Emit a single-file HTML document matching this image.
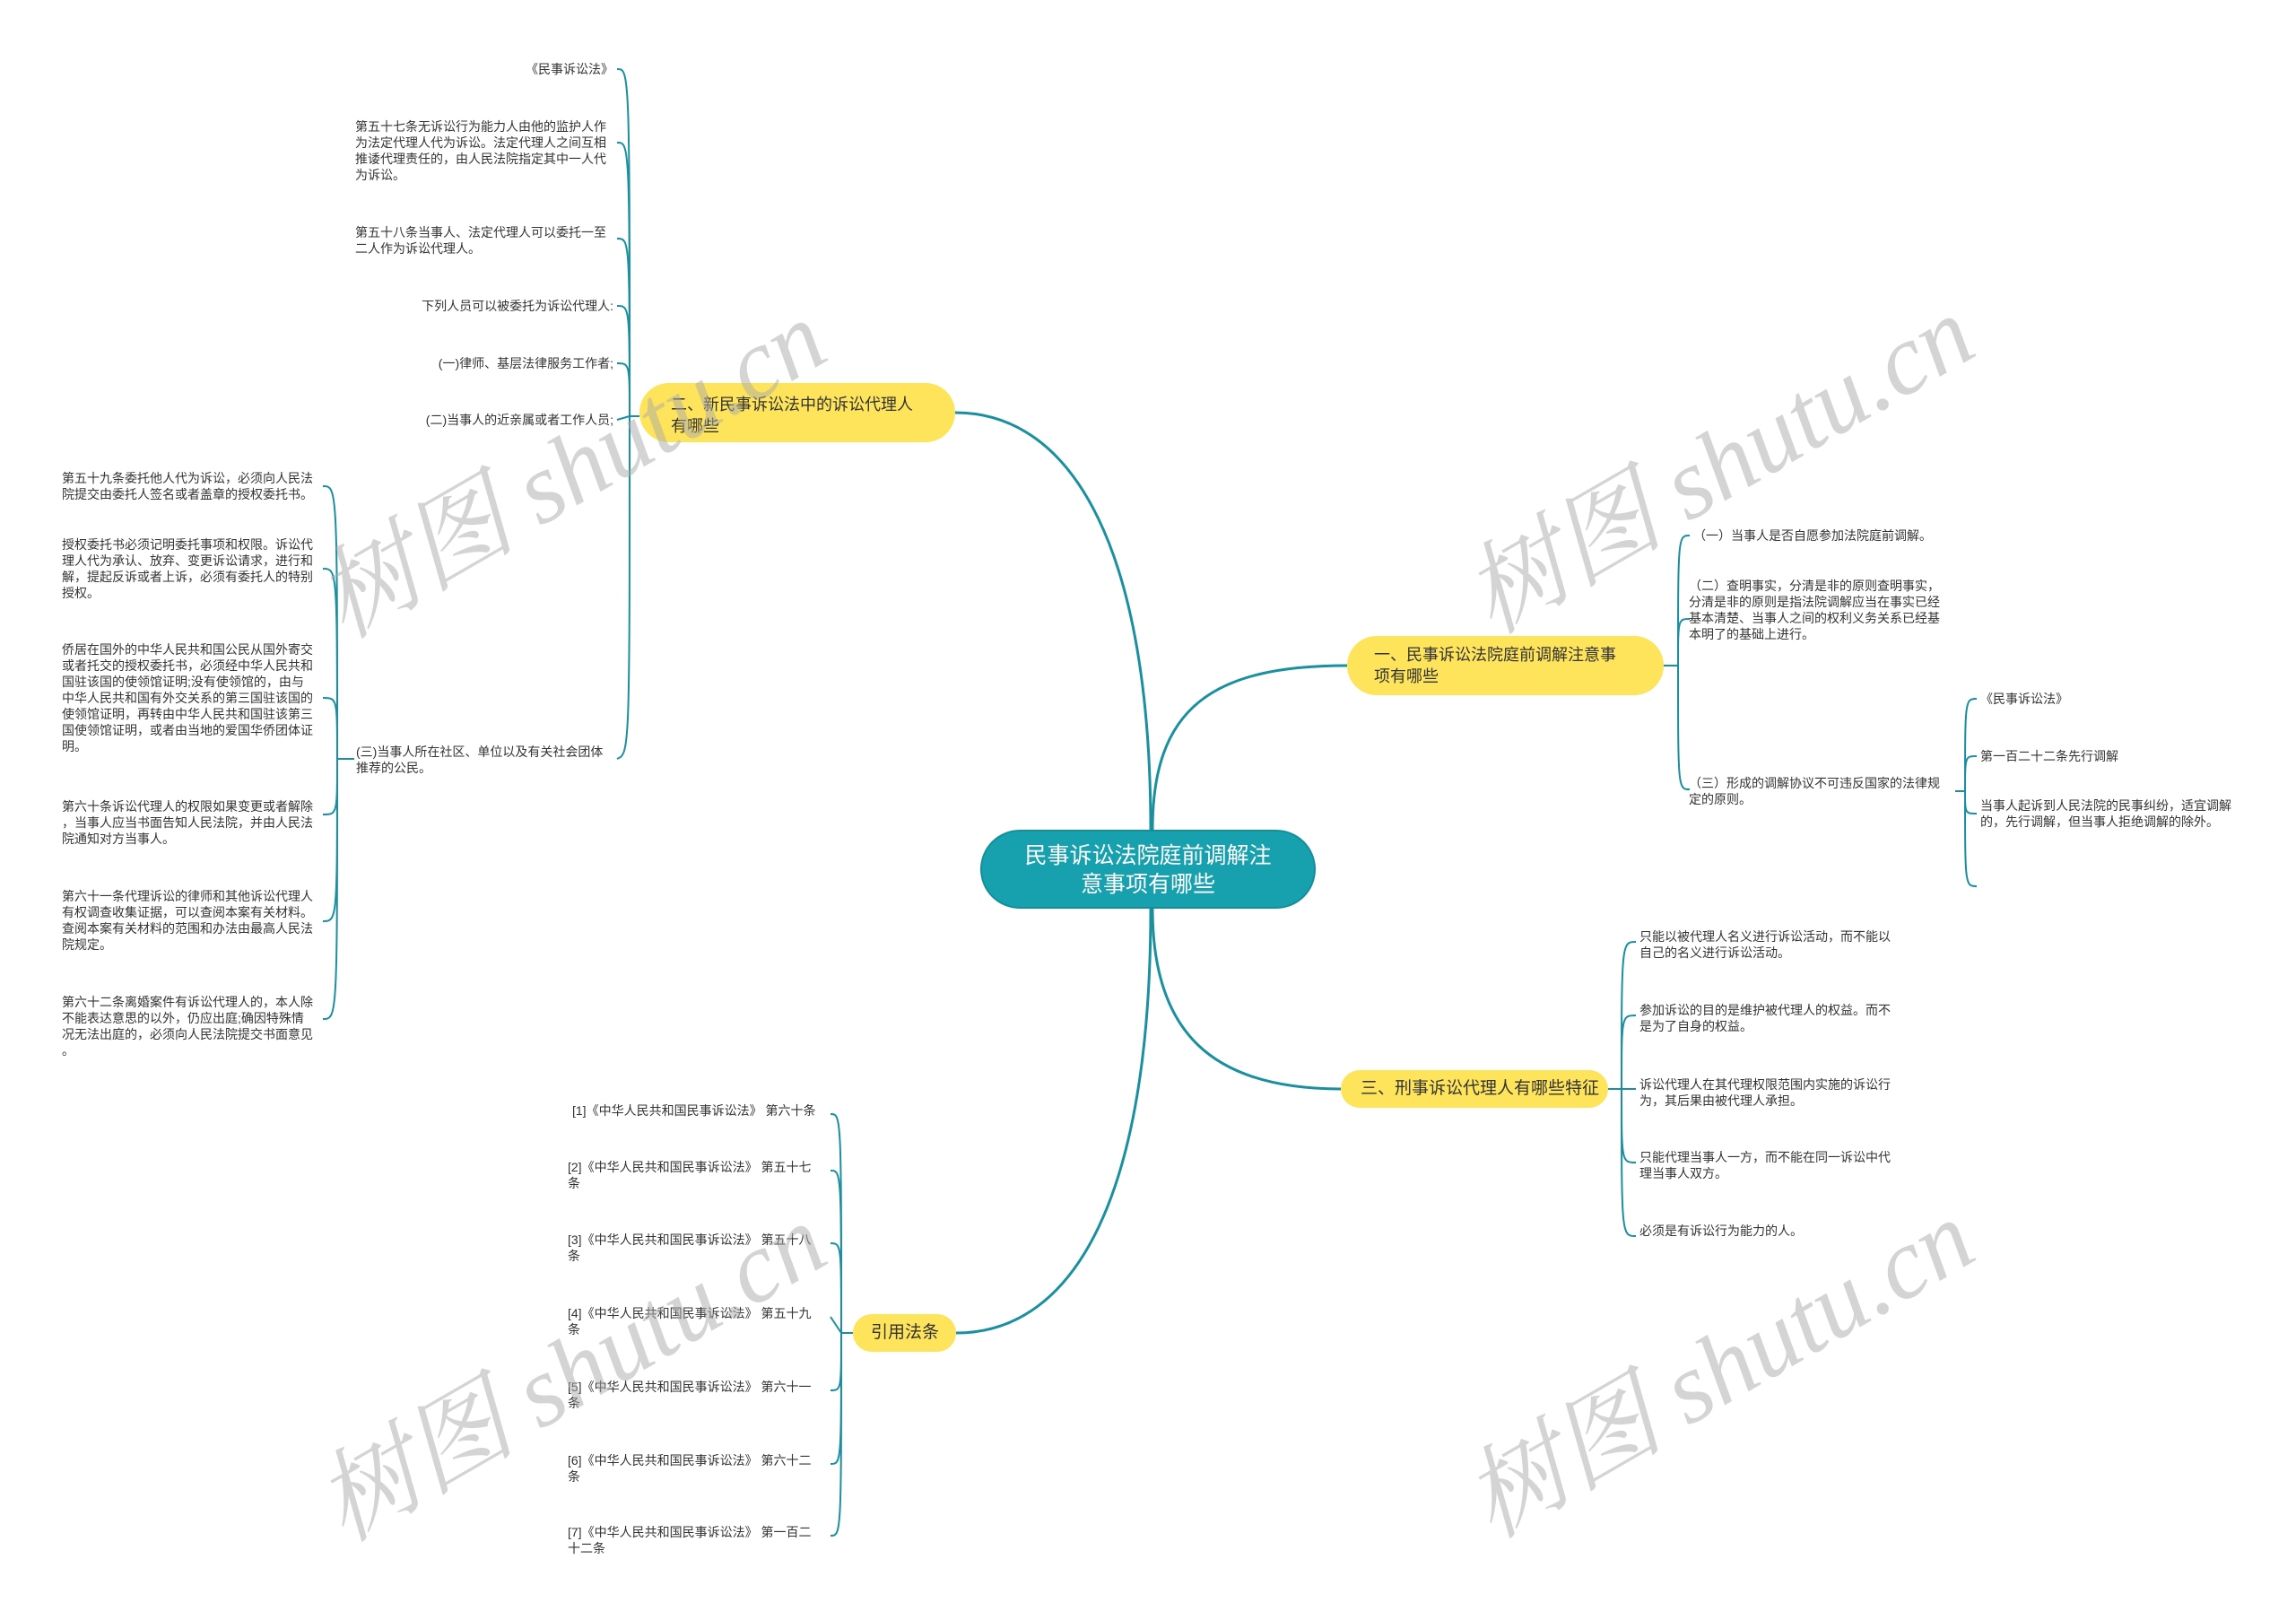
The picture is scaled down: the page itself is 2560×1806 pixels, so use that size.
<!DOCTYPE html>
<html><head><meta charset="utf-8">
<style>
html,body{margin:0;padding:0;background:#fff;}
body{width:2560px;height:1806px;position:relative;overflow:hidden;font-family:"Liberation Sans","Noto Sans CJK SC",sans-serif;}
.t{position:absolute;font-size:14px;line-height:18px;color:#333;white-space:nowrap;}
.r{text-align:right;}
.b{position:absolute;background:#fde45a;border-radius:34px;color:#333;font-size:18px;line-height:24px;box-sizing:border-box;}
.wm{position:absolute;font-family:"Liberation Serif","Noto Serif CJK SC",serif;font-style:italic;font-size:112px;color:rgba(170,170,170,0.5);white-space:nowrap;transform:translate(-50%,-50%) rotate(-30deg);}
</style></head><body>
<svg width="2560" height="1806" style="position:absolute;left:0;top:0" fill="none" stroke="#1a8fa0">
<g stroke-width="3">
<path d="M1283 925 C1283 620 1200 460 1065 460"/>
<path d="M1285 925 C1285 790 1350 742 1502 742"/>
<path d="M1285 1013 C1285 1150 1350 1214 1495 1214"/>
<path d="M1283 1013 C1283 1330 1200 1486 1066 1486"/>
</g>
<g stroke-width="2">
<path d="M713 464 L702 464"/>
<path d="M702 464 C702 77 702 77 688 77"/>
<path d="M702 464 C702 159 702 159 688 159"/>
<path d="M702 464 C702 266 702 266 688 266"/>
<path d="M702 464 C702 341 702 341 688 341"/>
<path d="M702 464 C702 405 702 405 688 405"/>
<path d="M702 464 L688 468"/>
<path d="M702 464 C702 840 702 840 688 846"/>
<path d="M395 846 L376 846"/>
<path d="M376 846 C376 542 376 542 360 542"/>
<path d="M376 846 C376 634 376 634 360 634"/>
<path d="M376 846 C376 778 376 778 360 778"/>
<path d="M376 846 C376 908 376 908 360 908"/>
<path d="M376 846 C376 1027 376 1027 360 1027"/>
<path d="M376 846 C376 1136 376 1136 360 1136"/>
<path d="M1855 742 L1871 742"/>
<path d="M1871 742 C1871 597 1871 597 1884 597"/>
<path d="M1871 742 C1871 690 1871 690 1884 690"/>
<path d="M1871 742 C1871 880 1871 880 1884 880"/>
<path d="M2180 882 L2191 882"/>
<path d="M2191 882 C2191 779 2191 779 2204 779"/>
<path d="M2191 882 C2191 843 2191 843 2204 843"/>
<path d="M2191 882 C2191 907 2191 907 2204 907"/>
<path d="M2191 882 C2191 988 2191 988 2204 988"/>
<path d="M1793 1214 L1808 1214"/>
<path d="M1808 1214 C1808 1050 1808 1050 1824 1050"/>
<path d="M1808 1214 C1808 1132 1808 1132 1824 1132"/>
<path d="M1808 1214 L1824 1214"/>
<path d="M1808 1214 C1808 1296 1808 1296 1824 1296"/>
<path d="M1808 1214 C1808 1378 1808 1378 1824 1378"/>
<path d="M951 1486 L938 1486"/>
<path d="M938 1486 C938 1242 938 1242 926 1242"/>
<path d="M938 1486 C938 1305 938 1305 926 1305"/>
<path d="M938 1486 C938 1386 938 1386 926 1386"/>
<path d="M938 1486 L926 1468"/>
<path d="M938 1486 C938 1550 938 1550 926 1550"/>
<path d="M938 1486 C938 1632 938 1632 926 1632"/>
<path d="M938 1486 C938 1712 938 1712 926 1712"/>
</g>
</svg>

<div style="position:absolute;left:1093px;top:925px;width:374px;height:88px;background:#17a0ae;border:2px solid #138e9b;box-sizing:border-box;border-radius:44px;color:#fff;font-size:25px;line-height:32px;text-align:center;padding-top:11px;">民事诉讼法院庭前调解注<br>意事项有哪些</div>

<div class="b" style="left:713px;top:427px;width:352px;height:66px;padding:12px 0 0 35px;">二、新民事诉讼法中的诉讼代理人<br>有哪些</div>
<div class="b" style="left:1502px;top:709px;width:353px;height:66px;padding:9px 0 0 30px;">一、民事诉讼法院庭前调解注意事<br>项有哪些</div>
<div class="b" style="left:1495px;top:1193px;width:298px;height:42px;padding:9px 0 0 22px;font-size:19px;">三、刑事诉讼代理人有哪些特征</div>
<div class="b" style="left:951px;top:1465px;width:115px;height:42px;padding:9px 0 0 20px;font-size:19px;">引用法条</div>

<div class="t r" style="right:1876px;top:68px;">《民事诉讼法》</div>
<div class="t" style="left:396px;top:132px;">第五十七条无诉讼行为能力人由他的监护人作<br>为法定代理人代为诉讼。法定代理人之间互相<br>推诿代理责任的，由人民法院指定其中一人代<br>为诉讼。</div>
<div class="t" style="left:396px;top:250px;">第五十八条当事人、法定代理人可以委托一至<br>二人作为诉讼代理人。</div>
<div class="t r" style="right:1876px;top:332px;">下列人员可以被委托为诉讼代理人:</div>
<div class="t r" style="right:1876px;top:396px;">(一)律师、基层法律服务工作者;</div>
<div class="t r" style="right:1876px;top:459px;">(二)当事人的近亲属或者工作人员;</div>
<div class="t" style="left:397px;top:829px;">(三)当事人所在社区、单位以及有关社会团体<br>推荐的公民。</div>

<div class="t" style="left:69px;top:524px;">第五十九条委托他人代为诉讼，必须向人民法<br>院提交由委托人签名或者盖章的授权委托书。</div>
<div class="t" style="left:69px;top:598px;">授权委托书必须记明委托事项和权限。诉讼代<br>理人代为承认、放弃、变更诉讼请求，进行和<br>解，提起反诉或者上诉，必须有委托人的特别<br>授权。</div>
<div class="t" style="left:69px;top:715px;">侨居在国外的中华人民共和国公民从国外寄交<br>或者托交的授权委托书，必须经中华人民共和<br>国驻该国的使领馆证明;没有使领馆的，由与<br>中华人民共和国有外交关系的第三国驻该国的<br>使领馆证明，再转由中华人民共和国驻该第三<br>国使领馆证明，或者由当地的爱国华侨团体证<br>明。</div>
<div class="t" style="left:69px;top:890px;">第六十条诉讼代理人的权限如果变更或者解除<br>，当事人应当书面告知人民法院，并由人民法<br>院通知对方当事人。</div>
<div class="t" style="left:69px;top:990px;">第六十一条代理诉讼的律师和其他诉讼代理人<br>有权调查收集证据，可以查阅本案有关材料。<br>查阅本案有关材料的范围和办法由最高人民法<br>院规定。</div>
<div class="t" style="left:69px;top:1108px;">第六十二条离婚案件有诉讼代理人的，本人除<br>不能表达意思的以外，仍应出庭;确因特殊情<br>况无法出庭的，必须向人民法院提交书面意见<br>。</div>

<div class="t" style="left:1888px;top:588px;">（一）当事人是否自愿参加法院庭前调解。</div>
<div class="t" style="left:1883px;top:644px;">（二）查明事实，分清是非的原则查明事实，<br>分清是非的原则是指法院调解应当在事实已经<br>基本清楚、当事人之间的权利义务关系已经基<br>本明了的基础上进行。</div>
<div class="t" style="left:1883px;top:864px;">（三）形成的调解协议不可违反国家的法律规<br>定的原则。</div>
<div class="t" style="left:2208px;top:770px;">《民事诉讼法》</div>
<div class="t" style="left:2208px;top:834px;">第一百二十二条先行调解</div>
<div class="t" style="left:2208px;top:889px;">当事人起诉到人民法院的民事纠纷，适宜调解<br>的，先行调解，但当事人拒绝调解的除外。</div>

<div class="t" style="left:1828px;top:1035px;">只能以被代理人名义进行诉讼活动，而不能以<br>自己的名义进行诉讼活动。</div>
<div class="t" style="left:1828px;top:1117px;">参加诉讼的目的是维护被代理人的权益。而不<br>是为了自身的权益。</div>
<div class="t" style="left:1828px;top:1200px;">诉讼代理人在其代理权限范围内实施的诉讼行<br>为，其后果由被代理人承担。</div>
<div class="t" style="left:1828px;top:1281px;">只能代理当事人一方，而不能在同一诉讼中代<br>理当事人双方。</div>
<div class="t" style="left:1828px;top:1363px;">必须是有诉讼行为能力的人。</div>

<div class="t" style="left:638px;top:1229px;">[1]《中华人民共和国民事诉讼法》 第六十条</div>
<div class="t" style="left:633px;top:1292px;">[2]《中华人民共和国民事诉讼法》 第五十七<br>条</div>
<div class="t" style="left:633px;top:1373px;">[3]《中华人民共和国民事诉讼法》 第五十八<br>条</div>
<div class="t" style="left:633px;top:1455px;">[4]《中华人民共和国民事诉讼法》 第五十九<br>条</div>
<div class="t" style="left:633px;top:1537px;">[5]《中华人民共和国民事诉讼法》 第六十一<br>条</div>
<div class="t" style="left:633px;top:1619px;">[6]《中华人民共和国民事诉讼法》 第六十二<br>条</div>
<div class="t" style="left:633px;top:1699px;">[7]《中华人民共和国民事诉讼法》 第一百二<br>十二条</div>

<div class="wm" style="left:632px;top:515px;">树图 shutu.cn</div>
<div class="wm" style="left:1912px;top:510px;">树图 shutu.cn</div>
<div class="wm" style="left:632px;top:1522px;">树图 shutu.cn</div>
<div class="wm" style="left:1912px;top:1518px;">树图 shutu.cn</div>
</body></html>
